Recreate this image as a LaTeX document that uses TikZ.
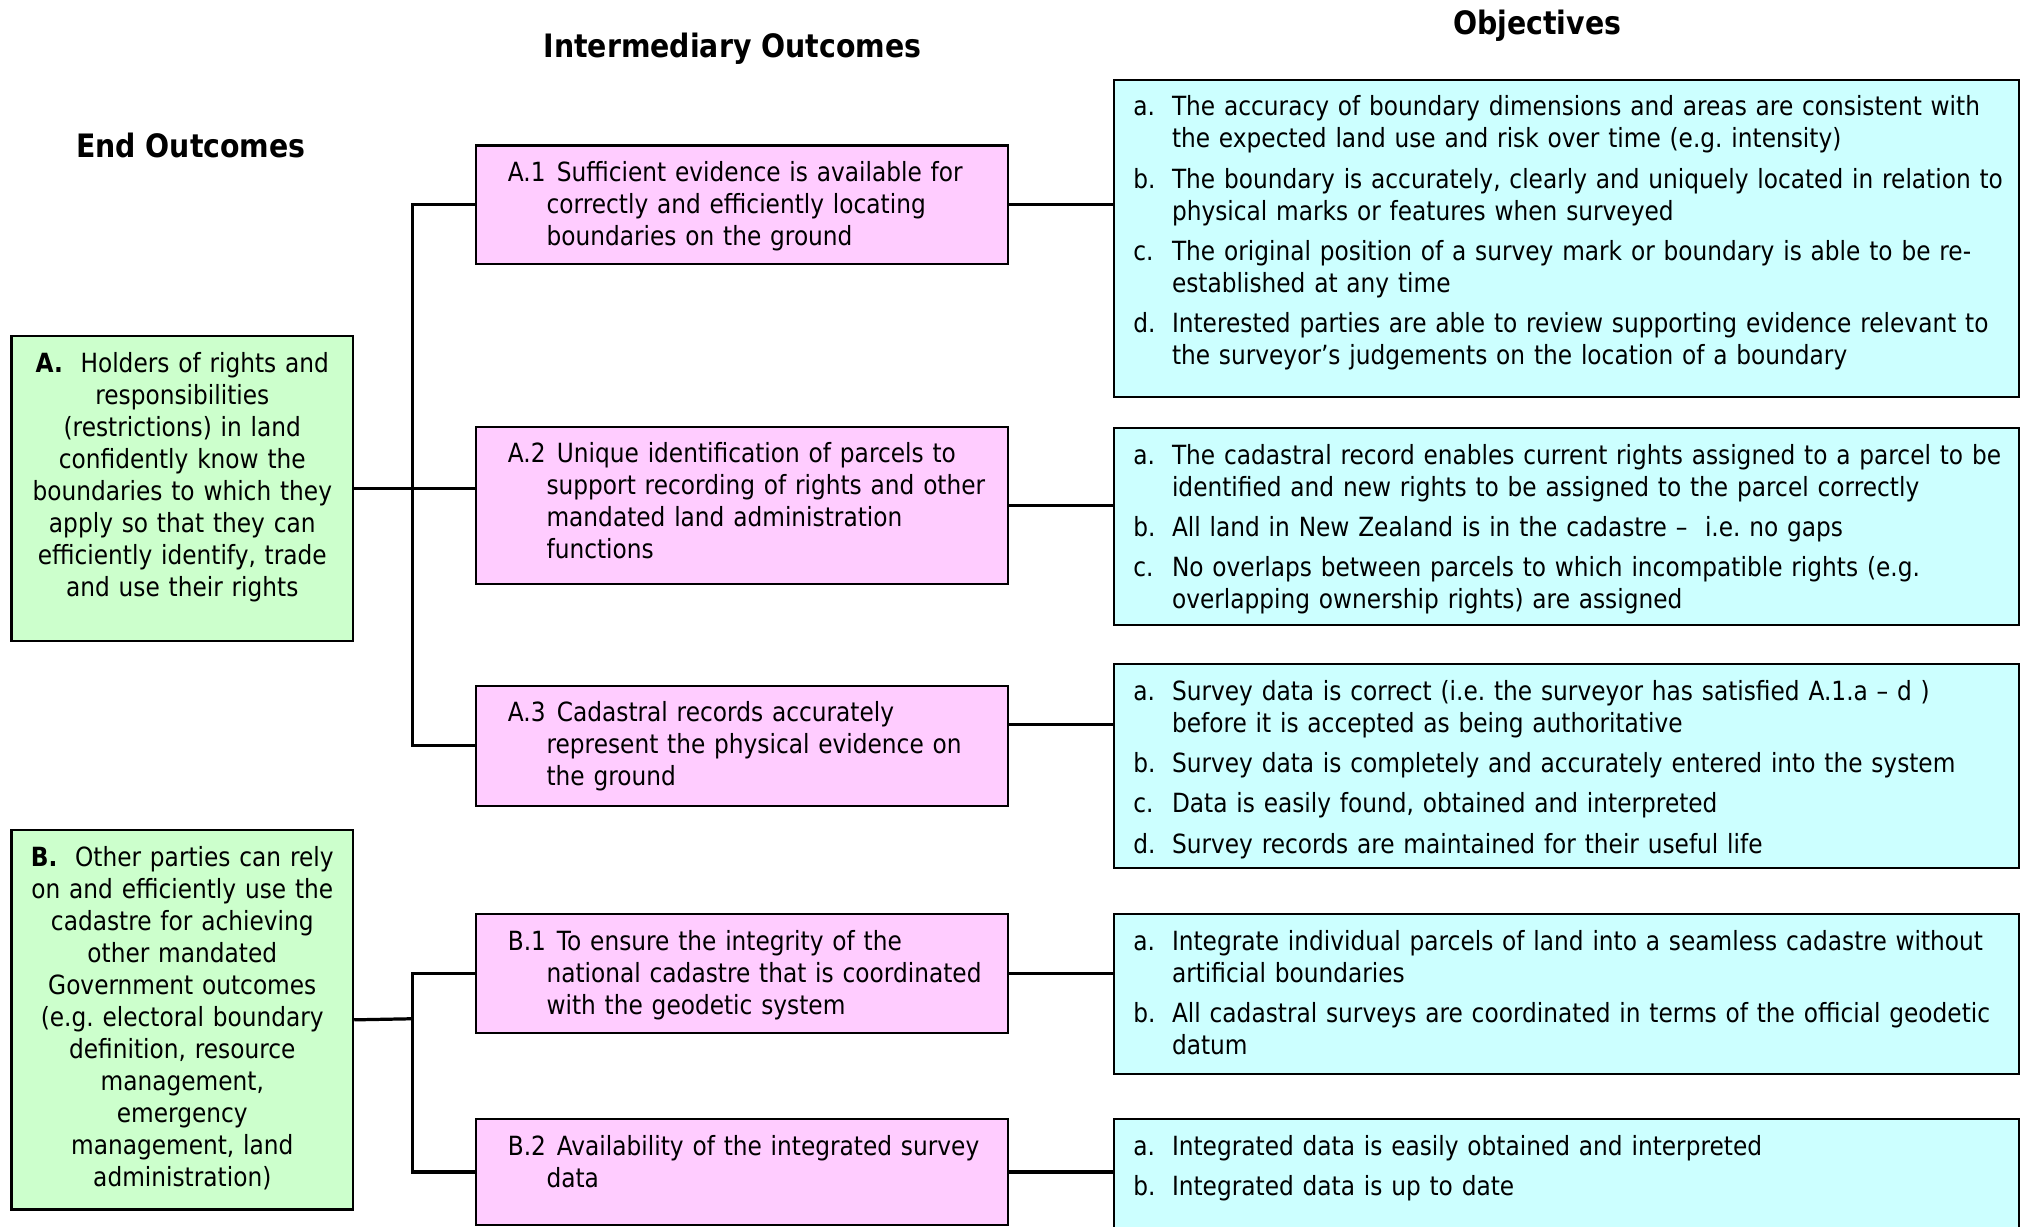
\documentclass[tikz,border=0pt]{standalone}
\usepackage{fontspec}
\setmainfont{DejaVu Sans}[FakeStretch=0.88]
\usepackage{tikz}

\definecolor{endfill}{HTML}{CCFFCC}
\definecolor{midfill}{HTML}{FFCCFF}
\definecolor{objfill}{HTML}{CCFFFF}

\newlength\padx
\newlength\labx
\newcommand{\hangitem}[2]{\noindent\hspace*{\padx}\makebox[\labx][l]{#1}#2}
\newcommand{\cont}{\newline\hspace*{\dimexpr\padx+30pt\relax}}
\newcommand{\itemgap}{\par\vspace{6.5pt}}

\tikzset{
  outbox/.style={draw, line width=1.7pt, anchor=north west, inner sep=0pt,
    text height=28pt, font=\fontsize{20.5}{24.8}\selectfont},
  endbox/.style={outbox, fill=endfill, text width=265pt, align=center},
  midbox/.style={outbox, fill=midfill, text width=413pt, align=left,
    font=\fontsize{20.5}{24.8}\selectfont\setlength\padx{25pt}\setlength\labx{38pt}},
  objbox/.style={outbox, fill=objfill, text width=702pt, align=left,
    font=\fontsize{20.5}{24.8}\selectfont\setlength\padx{15pt}\setlength\labx{30pt}},
  header/.style={font=\fontsize{25}{30}\selectfont\bfseries},
  link/.style={line width=2.5pt}
}

\begin{document}
\frenchspacing
\begin{tikzpicture}[x=1pt, y=-1pt]
\useasboundingbox (0,0) rectangle (1568,951);
\clip (0,0) rectangle (1568,951);

% headings
\node[header] (endhead) at (148,113) {End Outcomes};
\node[header] (midhead) at (568,38) {Intermediary Outcomes};
\node[header] (objhead) at (1192,20) {Objectives};

% end outcomes
\node[endbox, text depth=208pt] (ea) at (8,260) {\textbf{A.}\ \ Holders of rights and\\ responsibilities\\ (restrictions) in land\\ confidently know the\\ boundaries to which they\\ apply so that they can\\ efficiently identify, trade\\ and use their rights};
\node[endbox, text depth=266pt] (eb) at (8,643) {\textbf{B.}\ \ Other parties can rely\\ on and efficiently use the\\ cadastre for achieving\\ other mandated\\ Government outcomes\\ (e.g. electoral boundary\\ definition, resource\\ management,\\ emergency\\ management, land\\ administration)};

% intermediary outcomes
\node[midbox, text depth=64pt] (a1) at (368,112) {\hangitem{A.1}{Sufficient evidence is available for\cont correctly and efficiently locating\cont boundaries on the ground}\par};
\node[midbox, text depth=94pt] (a2) at (368,330) {\hangitem{A.2}{Unique identification of parcels to\cont support recording of rights and other\cont mandated land administration\cont functions}\par};
\node[midbox, text depth=65pt] (a3) at (368,531) {\hangitem{A.3}{Cadastral records accurately\cont represent the physical evidence on\cont the ground}\par};
\node[midbox, text depth=64pt] (b1) at (368,708) {\hangitem{B.1}{To ensure the integrity of the\cont national cadastre that is coordinated\cont with the geodetic system}\par};
\node[midbox, text depth=54pt] (b2) at (368,867) {\hangitem{B.2}{Availability of the integrated survey\cont data}\par};

% objectives
\node[objbox, text depth=218pt] (c1) at (863,61) {%
  \hangitem{a.}{The accuracy of boundary dimensions and areas are consistent with\cont the expected land use and risk over time (e.g. intensity)}\itemgap
  \hangitem{b.}{The boundary is accurately, clearly and uniquely located in relation to\cont physical marks or features when surveyed}\itemgap
  \hangitem{c.}{The original position of a survey mark or boundary is able to be re-\cont established at any time}\itemgap
  \hangitem{d.}{Interested parties are able to review supporting evidence relevant to\cont the surveyor’s judgements on the location of a boundary}\par};
\node[objbox, text depth=125pt] (c2) at (863,331) {%
  \hangitem{a.}{The cadastral record enables current rights assigned to a parcel to be\cont identified and new rights to be assigned to the parcel correctly}\itemgap
  \hangitem{b.}{All land in New Zealand is in the cadastre –\ \ i.e. no gaps}\itemgap
  \hangitem{c.}{No overlaps between parcels to which incompatible rights (e.g.\cont overlapping ownership rights) are assigned}\par};
\node[objbox, text depth=130pt] (c3) at (863,514) {%
  \hangitem{a.}{Survey data is correct (i.e. the surveyor has satisfied A.1.a – d )\cont before it is accepted as being authoritative}\itemgap
  \hangitem{b.}{Survey data is completely and accurately entered into the system}\itemgap
  \hangitem{c.}{Data is easily found, obtained and interpreted}\itemgap
  \hangitem{d.}{Survey records are maintained for their useful life}\par};
\node[objbox, text depth=96pt] (c4) at (863,708) {%
  \hangitem{a.}{Integrate individual parcels of land into a seamless cadastre without\cont artificial boundaries}\itemgap
  \hangitem{b.}{All cadastral surveys are coordinated in terms of the official geodetic\cont datum}\par};
\node[objbox, text depth=102pt] (c5) at (863,867) {%
  \hangitem{a.}{Integrated data is easily obtained and interpreted}\itemgap
  \hangitem{b.}{Integrated data is up to date}\par};

% connectors
\coordinate (ja) at (320,378);
\coordinate (jb) at (320,790);
\draw[link] (ea.east) -- (a2.west |- ea.east);
\draw[link] (a1.west) -| (ja) |- (a3.west);
\draw[link] (eb.east) -- (jb);
\draw[link] (b1.west) -| (jb) |- (b2.west);
\draw[link] (a1.east) -- (a1.east -| c1.west);
\draw[link] (a2.east) -- (a2.east -| c2.west);
\draw[link] ([yshift=16.5pt]a3.east) -- ([yshift=16.5pt]a3.east -| c3.west);
\draw[link] (b1.east) -- (b1.east -| c4.west);
\draw[link] (b2.east) -- (b2.east -| c5.west);
\end{tikzpicture}
\end{document}
